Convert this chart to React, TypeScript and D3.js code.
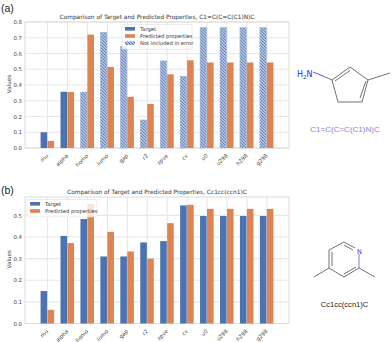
import React, { useRef, useEffect } from 'react';
import * as d3 from 'd3';

// property names shared by both panels
const properties = ['mu', 'alpha', 'homo', 'lumo', 'gap', 'r2', 'zpve', 'cv', 'u0', 'u298', 'h298', 'g298'];

const targetA = [0.1, 0.357, 0.355, 0.735, 0.645, 0.178, 0.553, 0.456, 0.765, 0.765, 0.765, 0.765];
const predictedA = [0.045, 0.355, 0.72, 0.515, 0.325, 0.28, 0.468, 0.557, 0.543, 0.543, 0.543, 0.543];
const excludedA = ['homo', 'lumo', 'gap', 'r2', 'zpve', 'cv', 'u0', 'u298', 'h298', 'g298'];
const ticksA = [0, 0.1, 0.2, 0.3, 0.4, 0.5, 0.6, 0.7, 0.8];

const targetB = [0.15, 0.405, 0.483, 0.31, 0.31, 0.375, 0.381, 0.546, 0.497, 0.497, 0.497, 0.497];
const predictedB = [0.063, 0.372, 0.553, 0.424, 0.333, 0.3, 0.464, 0.549, 0.53, 0.53, 0.53, 0.53];
const ticksB = [0, 0.1, 0.2, 0.3, 0.4, 0.5];

const BLUE = '#4c72b0';
const ORANGE = '#dd8452';
const GRID = '#e8e8e8';
const FONT = '"DejaVu Sans", sans-serif';
const left = 25;
const right = 289;

const drawPanel = (svg, opts) => {
  const { target, predicted, excluded, ticks, yMax, top, bottom, title, legend } = opts;

  const x = d3.scaleBand().domain(properties).range([left + 9.6, right - 9.2]).padding(0.3);
  const y = d3.scaleLinear().domain([0, yMax]).range([bottom, top]);
  const barWidth = x.bandwidth() / 2;

  const g = svg.append('g');

  // grid lines
  g.append('g').selectAll('line').data(ticks).enter().append('line')
    .attr('x1', left).attr('x2', right)
    .attr('y1', d => y(d)).attr('y2', d => y(d))
    .attr('stroke', GRID).attr('stroke-width', 1.1);
  g.append('g').selectAll('line').data(properties).enter().append('line')
    .attr('x1', d => x(d) + barWidth).attr('x2', d => x(d) + barWidth)
    .attr('y1', top).attr('y2', bottom)
    .attr('stroke', GRID).attr('stroke-width', 1.1);

  // frame
  g.append('rect')
    .attr('x', left).attr('y', top).attr('width', right - left).attr('height', bottom - top)
    .attr('fill', 'none').attr('stroke', '#dcdcdc').attr('stroke-width', 1);

  // target bars, hatched when the property is left out of the error
  g.append('g').selectAll('rect').data(properties).enter().append('rect')
    .attr('x', d => x(d))
    .attr('y', (d, i) => y(target[i]))
    .attr('width', barWidth - 0.4)
    .attr('height', (d, i) => bottom - y(target[i]))
    .attr('fill', d => excluded.includes(d) ? 'url(#hatch)' : BLUE)
    .attr('stroke', d => excluded.includes(d) ? '#9fb4d8' : 'none')
    .attr('stroke-width', 0.5);

  g.append('g').selectAll('rect').data(properties).enter().append('rect')
    .attr('x', d => x(d) + barWidth)
    .attr('y', (d, i) => y(predicted[i]))
    .attr('width', barWidth - 0.4)
    .attr('height', (d, i) => bottom - y(predicted[i]))
    .attr('fill', ORANGE);

  // axes
  const yAxis = g.append('g')
    .attr('transform', `translate(${left},0)`)
    .call(d3.axisLeft(y).tickValues(ticks).tickSize(0).tickPadding(3).tickFormat(d3.format('.1f')));
  yAxis.select('.domain').remove();
  yAxis.selectAll('text').style('font-family', FONT).style('font-size', '5.4px').attr('fill', '#444');

  const xAxis = g.append('g')
    .attr('transform', `translate(0,${bottom})`)
    .call(d3.axisBottom(x).tickSize(0));
  xAxis.select('.domain').remove();
  xAxis.selectAll('text')
    .style('font-family', FONT).style('font-size', '5.4px').attr('fill', '#444')
    .attr('text-anchor', 'end')
    .attr('transform', 'translate(0,7) rotate(-45)')
    .attr('dy', '0.3em').attr('y', 0);

  // labels
  g.append('text')
    .attr('transform', `translate(11,${(top + bottom) / 2 - 1}) rotate(-90)`)
    .attr('text-anchor', 'middle')
    .style('font-family', FONT).style('font-size', '5.6px').attr('fill', '#444')
    .text('Values');

  g.append('text')
    .attr('x', (left + right) / 2).attr('y', top - 3.5)
    .attr('text-anchor', 'middle')
    .style('font-family', FONT).style('font-size', '5.85px').attr('fill', '#333')
    .text(title);

  // legend
  const box = g.append('g').attr('transform', `translate(${legend.x},${top + 2.5})`);
  box.append('rect')
    .attr('width', legend.width).attr('height', legend.items.length * 7.2 + 3)
    .attr('rx', 1)
    .attr('fill', 'white').attr('fill-opacity', 0.8)
    .attr('stroke', '#dddddd').attr('stroke-width', 0.6);
  legend.items.forEach((item, i) => {
    const row = box.append('g').attr('transform', `translate(3,${2.5 + i * 7.2})`);
    row.append('rect').attr('width', 10).attr('height', 3.6).attr('fill', item.fill);
    row.append('text')
      .attr('x', 15).attr('y', 3.8)
      .style('font-family', FONT).style('font-size', '5.2px').attr('fill', '#333')
      .text(item.label);
  });
};

const bond = (svg, a, b, color = '#4d4d4d') => {
  svg.append('line')
    .attr('x1', a[0]).attr('y1', a[1]).attr('x2', b[0]).attr('y2', b[1])
    .attr('stroke', color).attr('stroke-width', 0.8);
};

const App = () => {
  const svgReference = useRef(null);

  useEffect(() => {
    const svg = d3.select(svgReference.current);
    svg.selectAll('*').remove();

    // 3px / sqrt(2) period keeps the stripes on the pixel grid, no moire
    const hatchSize = 3 / Math.SQRT2;
    const hatch = svg.append('defs').append('pattern')
      .attr('id', 'hatch').attr('patternUnits', 'userSpaceOnUse')
      .attr('width', hatchSize).attr('height', hatchSize)
      .attr('patternTransform', 'rotate(45)');
    hatch.append('rect').attr('width', hatchSize).attr('height', hatchSize).attr('fill', '#eef2f8');
    hatch.append('rect').attr('width', hatchSize).attr('height', hatchSize * 0.55).attr('fill', '#4c72b0');

    svg.append('text').attr('x', 1).attr('y', 12)
      .style('font-family', '"Liberation Sans", sans-serif').style('font-size', '10.5px').attr('fill', '#222').text('(a)');
    svg.append('text').attr('x', 1).attr('y', 194)
      .style('font-family', '"Liberation Sans", sans-serif').style('font-size', '10.5px').attr('fill', '#222').text('(b)');

    drawPanel(svg, {
      target: targetA, predicted: predictedA, excluded: excludedA, ticks: ticksA,
      yMax: 0.8, top: 22, bottom: 148,
      title: 'Comparison of Target and Predicted Properties, C1=C(C=C(C1)N)C',
      legend: {
        x: 122, width: 70,
        items: [
          { fill: BLUE, label: 'Target' },
          { fill: ORANGE, label: 'Predicted properties' },
          { fill: 'url(#hatch)', label: 'Not included in error' },
        ],
      },
    });

    drawPanel(svg, {
      target: targetB, predicted: predictedB, excluded: [], ticks: ticksB,
      yMax: 0.585, top: 197, bottom: 323.5,
      title: 'Comparison of Target and Predicted Properties, Cc1cc(ccn1)C',
      legend: {
        x: 27, width: 70,
        items: [
          { fill: BLUE, label: 'Target' },
          { fill: ORANGE, label: 'Predicted properties' },
        ],
      },
    });

    // molecule (a)
    const N = '#2a2ae0';
    bond(svg, [313, 72], [323, 76], N);
    bond(svg, [323, 76], [332, 80]);
    bond(svg, [332, 80], [350, 67]);
    bond(svg, [335, 81], [350, 70.5]);
    bond(svg, [350, 67], [368, 80]);
    bond(svg, [368, 80], [362, 102]);
    bond(svg, [366, 81], [360, 98]);
    bond(svg, [362, 102], [338, 102]);
    bond(svg, [338, 102], [332, 80]);
    bond(svg, [368, 80], [390, 73]);
    svg.append('text').attr('x', 297).attr('y', 76.5)
      .style('font-family', FONT).style('font-size', '8px').attr('fill', N)
      .text('H').append('tspan').attr('dy', 2).style('font-size', '5.5px').text('2')
      .append('tspan').attr('dy', -2).style('font-size', '8px').text('N');
    svg.append('text').attr('x', 345).attr('y', 132)
      .attr('text-anchor', 'middle')
      .style('font-family', '"Liberation Sans", sans-serif').style('font-size', '8px').attr('fill', '#8d84c8')
      .text('C1=C(C=C(C1)N)C');

    // molecule (b)
    bond(svg, [344, 242], [355, 248]);
    bond(svg, [344, 245], [353, 250]);
    bond(svg, [329, 250], [344, 242]);
    bond(svg, [329, 250], [329, 268]);
    bond(svg, [332, 252], [332, 266]);
    bond(svg, [329, 268], [344, 277]);
    bond(svg, [344, 277], [359, 268]);
    bond(svg, [344, 274], [356, 267]);
    bond(svg, [359, 268], [359, 254], '#5a5ab0');
    bond(svg, [329, 268], [314, 277]);
    bond(svg, [359, 268], [375, 277]);
    svg.append('text').attr('x', 359.5).attr('y', 253.5)
      .attr('text-anchor', 'middle')
      .style('font-family', FONT).style('font-size', '6.5px').attr('fill', '#2a2ae0')
      .text('N');
    svg.append('text').attr('x', 344.5).attr('y', 307)
      .attr('text-anchor', 'middle')
      .style('font-family', '"Liberation Sans", sans-serif').style('font-size', '7.6px').attr('fill', '#222')
      .text('Cc1cc(ccn1)C');
  }, []);

  return (
    <svg
      ref={svgReference}
      width={392}
      height={342}
      style={{ position: 'fixed', left: 0, top: 0, background: 'white' }}
    />
  );
};

export default App;
